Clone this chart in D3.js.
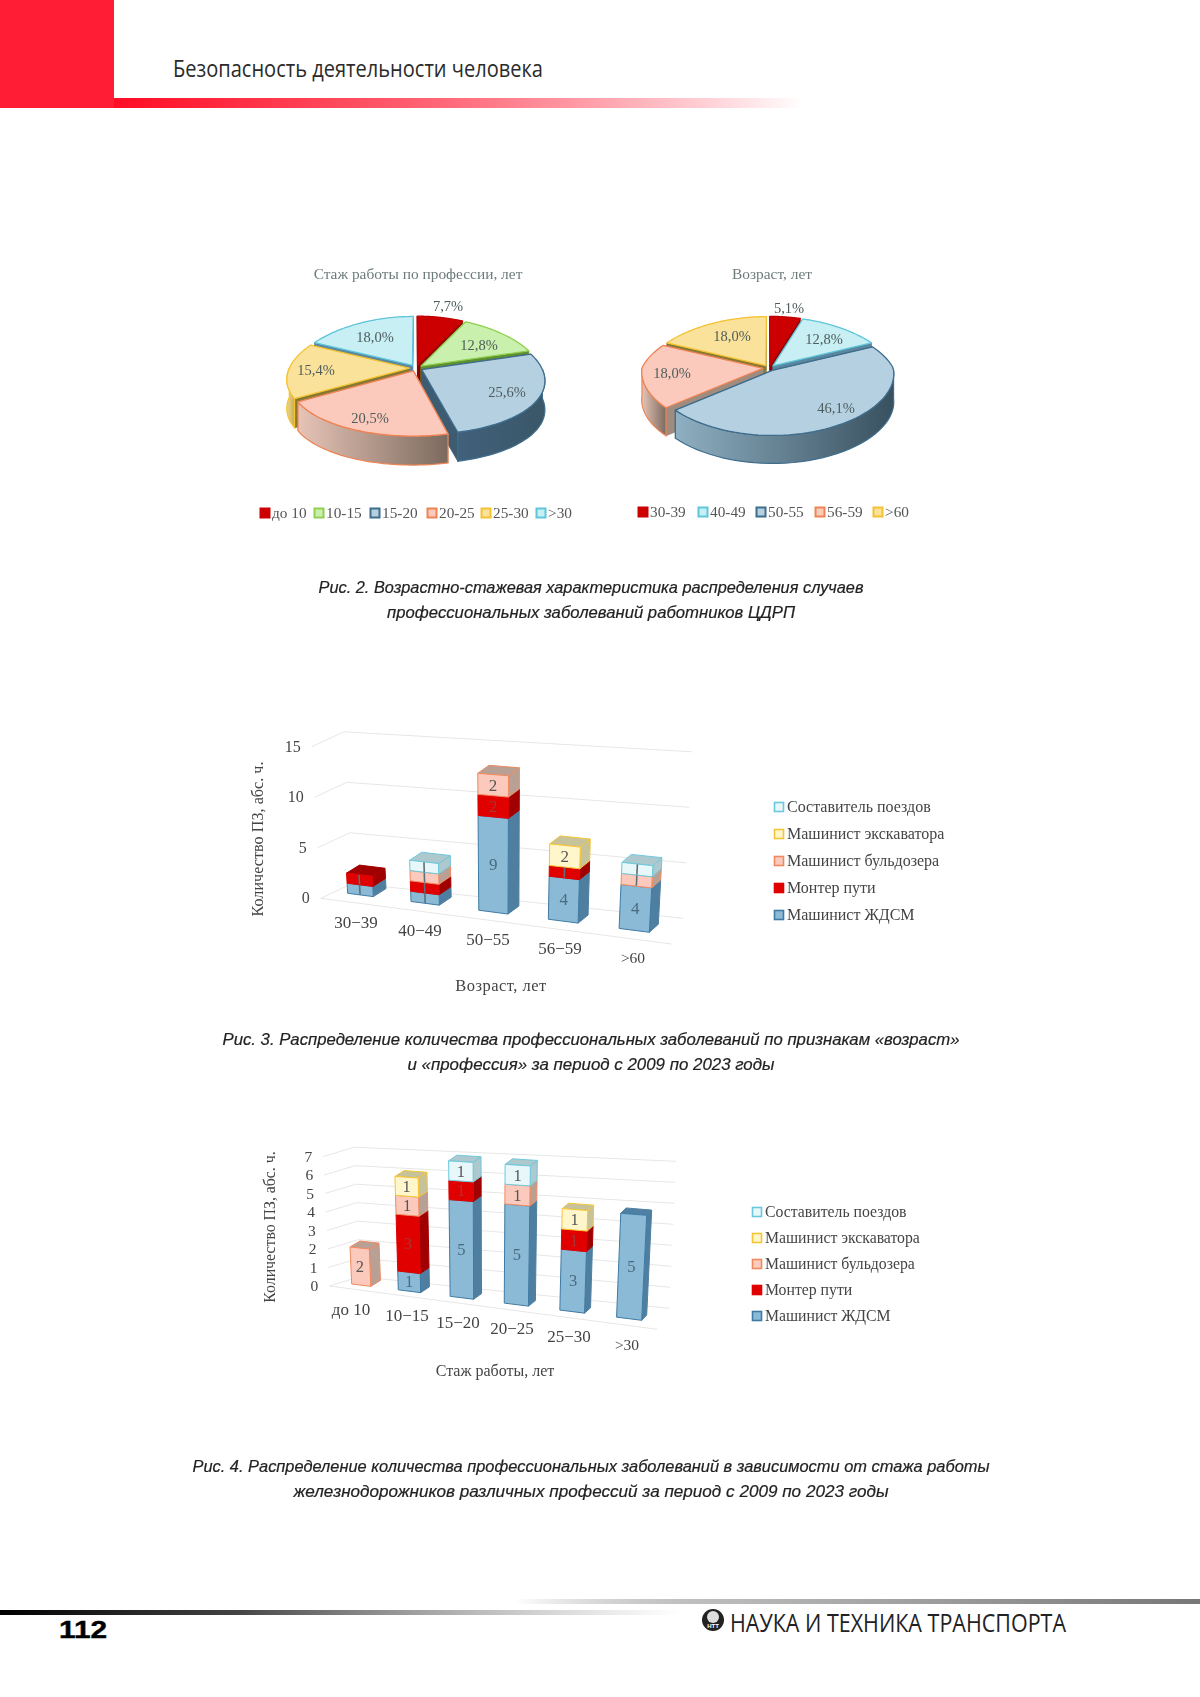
<!DOCTYPE html>
<html lang="ru"><head><meta charset="utf-8">
<script src="https://d3js.org/d3.v7.min.js"></script>
<style>
html,body{margin:0;padding:0;background:#fff}
svg{display:block}
text{font-family:"Liberation Serif",serif}
.soft{filter:blur(.6px)}
.cap{font-family:"Liberation Sans",sans-serif;font-style:italic;font-size:16.4px;fill:#222;stroke:#222;stroke-width:.2;text-anchor:middle}
</style></head><body>
<svg id="page" width="1200" height="1697" viewBox="0 0 1200 1697"></svg>
<script>
// ---------- data ----------
const pie1Title = "Стаж работы по профессии, лет";
const pie1Labels = ["до 10","10-15","15-20","20-25","25-30",">30"];
const pie1Values = [7.7,12.8,25.6,20.5,15.4,18.0];
const pie2Title = "Возраст, лет";
const pie2Labels = ["30-39","40-49","50-55","56-59",">60"];
const pie2Values = [5.1,12.8,46.1,18.0,18.0];

const seriesNames = ["Машинист ЖДСМ","Монтер пути","Машинист бульдозера","Машинист экскаватора","Составитель поездов"];

const ageCategories = ["30−39","40−49","50−55","56−59",">60"];
const ageZhdsm     = [1,1,9,4,4];
const ageMonter    = [1,1,2,1,0];
const ageBulldozer = [0,1,2,0,1];
const ageExcavator = [0,0,0,2,0];
const ageSostav    = [0,1,0,0,1];
const ageTicks = [0,5,10,15];

const expCategories = ["до 10","10−15","15−20","20−25","25−30",">30"];
const expZhdsm     = [0,1,5,5,3,5];
const expMonter    = [0,3,1,0,1,0];
const expBulldozer = [2,1,0,1,0,0];
const expExcavator = [0,1,0,0,1,0];
const expSostav    = [0,0,1,1,0,0];
const expTicks = [0,1,2,3,4,5,6,7];

// ---------- styles ----------
const sliceStyle = {
  red:   {top:"#cc0000",stroke:"#c00000",wall:"#8f0000",side:["#b00000","#7a0000"],mark:"#cc0000",markIn:"#cc0000"},
  green: {top:"#c9f0ad",stroke:"#8fd04f",wall:"#5f8f30",side:["#6f9f40","#4f7f25"],mark:"#92d050",markIn:"#c9f0ad"},
  navy:  {top:"#b5d1e1",stroke:"#3f6d8c",wall:"#3d5c72",side:["#41617a","#3a5668"],mark:"#3f6d8c",markIn:"#b5d1e1"},
  blue:  {top:"#b5d1e1",stroke:"#3f6d8c",wall:"#3d5c72",side:["#8fb0c2","#38505f"],mark:"#3f6d8c",markIn:"#b5d1e1"},
  pink:  {top:"#fbcabd",stroke:"#ee8354",wall:"#a08c7e",side:["#e6c4b6","#7c6a5e"],mark:"#ee8354",markIn:"#fbcabd"},
  yellow:{top:"#fbe29b",stroke:"#f4c233",wall:"#87782f",side:["#f0d88a","#c8ac55"],mark:"#f4c233",markIn:"#fbe29b"},
  cyan:  {top:"#c8eff3",stroke:"#5ec5da",wall:"#5a87a0",side:["#7ab0bb","#4d8a96"],mark:"#5ec5da",markIn:"#c8eff3"}
};
const barStyle = [
  {front:"#8abad6",stroke:"#3f7aa3",side:"#4f7fa0",top:"#4f80a3",text:"#4c6a7e"},
  {front:"#e00000",stroke:"#e00000",side:"#a00000",top:"#a00000",text:"#a33"},
  {front:"#fbcabd",stroke:"#ef8a60",side:"#b9a094",top:"#b9a094",text:"#555"},
  {front:"#fff6cc",stroke:"#f6c535",side:"#c6c299",top:"#c6c299",text:"#555"},
  {front:"#e8f7f9",stroke:"#6cc8dc",side:"#aec9ce",top:"#aec9ce",text:"#555"}
];

const svg = d3.select("#page");
const defs = svg.append("defs");
const lineGen = d3.line();

// ---------- page furniture ----------
function hGrad(id, stops){
  const g = defs.append("linearGradient").attr("id",id);
  stops.forEach(s=>g.append("stop").attr("offset",s[0]).attr("stop-color",s[1]).attr("stop-opacity",s[2]===undefined?1:s[2]));
}
hGrad("redFade",[[0,"#ff0d24"],[.35,"#ff4d60"],[1,"#ff1f3a",0]]);
hGrad("topFade",[[0,"#888",0],[.3,"#bbb"],[1,"#777"]]);
hGrad("blackFade",[[0,"#000"],[.35,"#444"],[1,"#888",0]]);
svg.append("rect").attr("x",0).attr("y",0).attr("width",114).attr("height",108).attr("fill","#ff1d36");
svg.append("rect").attr("x",114).attr("y",98).attr("width",690).attr("height",10).attr("fill","url(#redFade)");
svg.append("text").attr("x",173).attr("y",77).attr("textLength",370).attr("lengthAdjust","spacingAndGlyphs")
  .style("font-family","'Open Sans',sans-serif").style("font-size","23px").attr("fill","#2b2b2b").text("Безопасность деятельности человека");
svg.append("rect").attr("x",515).attr("y",1599).attr("width",685).attr("height",5).attr("fill","url(#topFade)");
svg.append("rect").attr("x",0).attr("y",1610).attr("width",680).attr("height",5).attr("fill","url(#blackFade)");
svg.append("text").attr("x",59).attr("y",1638).attr("textLength",48).attr("lengthAdjust","spacingAndGlyphs")
  .style("font-family","'Liberation Sans',sans-serif").style("font-weight","700").style("font-size","23px").attr("stroke","#000").attr("stroke-width",.4).text("112");
svg.append("circle").attr("cx",713).attr("cy",1620).attr("r",11).attr("fill","#222");
svg.append("circle").attr("cx",713).attr("cy",1617).attr("r",6).attr("fill","#ddd");
svg.append("text").attr("x",713).attr("y",1628).attr("text-anchor","middle").style("font-family","'Liberation Sans',sans-serif").style("font-size","6px").style("font-weight","700").attr("fill","#fff").text("НТТ");
svg.append("text").attr("x",730).attr("y",1632).attr("textLength",336).attr("lengthAdjust","spacingAndGlyphs")
  .style("font-family","'Open Sans',sans-serif").style("font-size","26px").attr("fill","#222").text("НАУКА И ТЕХНИКА ТРАНСПОРТА");

// ---------- 3D pie ----------
function drawPie(cfg){
  const g = svg.append("g").attr("class","soft");
  const pie = d3.pie().sort(null).value(d=>d)(cfg.values);
  const project = (x,v)=>[cfg.cx+cfg.rx*x*(1+(v<0?.2:cfg.frontStretch)*v), cfg.cy+cfg.ry*v*(1+.13*v)];
  const items = pie.map((p,i)=>{
    const st = sliceStyle[cfg.colors[i]];
    const mid = (p.startAngle+p.endAngle)/2;
    return {p,i,st,mid,ex:cfg.explode*Math.sin(mid),ev:-cfg.explode*Math.cos(mid)};
  });
  const pt = (it,a,r)=>project(it.ex+r*Math.sin(a), it.ev-r*Math.cos(a));
  const down = q=>[q[0],q[1]+cfg.depth];
  const order = items.slice().sort((a,b)=>a.ev-Math.cos(a.mid)-(b.ev-Math.cos(b.mid)));
  order.forEach(it=>{
    const {p,st} = it;
    const c = pt(it,0,0);
    [p.startAngle,p.endAngle].forEach(a=>{
      const e = pt(it,a,1);
      g.append("path").attr("d",lineGen([c,e,down(e),down(c)])+"Z").attr("fill",st.wall).attr("stroke",st.wall).attr("stroke-width",.8);
    });
    const a0 = Math.max(p.startAngle,Math.PI/2), a1 = Math.min(p.endAngle,Math.PI*1.5);
    if(a1>a0){
      const arc = d3.range(0,41).map(k=>pt(it,a0+(a1-a0)*k/40,1));
      const id = "side"+cfg.key+it.i;
      const gr = defs.append("linearGradient").attr("id",id);
      gr.append("stop").attr("offset",0).attr("stop-color",st.side[0]);
      gr.append("stop").attr("offset",1).attr("stop-color",st.side[1]);
      g.append("path").attr("d",lineGen(arc.concat(arc.slice().reverse().map(down)))+"Z")
        .attr("fill",`url(#${id})`).attr("stroke",st.stroke).attr("stroke-width",1.2);
    }
    const n = 60;
    const rim = d3.range(0,n+1).map(k=>pt(it,p.startAngle+(p.endAngle-p.startAngle)*k/n,1));
    g.append("path").attr("d",lineGen([c].concat(rim))+"Z").attr("fill",st.top).attr("stroke",st.stroke)
      .attr("stroke-width",1.3).attr("stroke-linejoin","round");
  });
  items.forEach(it=>{
    const o = cfg.labelOffsets[it.i];
    g.append("text").attr("x",cfg.cx+o[0]).attr("y",cfg.cy+o[1]+5).attr("text-anchor","middle")
      .attr("fill","#4e5c5c").style("font-size","14.5px").text(it.p.value.toFixed(1).replace(".",",")+"%");
  });
  g.append("text").attr("x",cfg.titleX).attr("y",279).attr("text-anchor","middle").attr("fill","#6d7b7b")
    .style("font-size","15.4px").text(cfg.title);
  cfg.labels.forEach((l,i)=>{
    const st = sliceStyle[cfg.colors[i]], x = cfg.legendX[i];
    g.append("rect").attr("x",x-4.5).attr("y",cfg.legendY-4.5).attr("width",9).attr("height",9)
      .attr("fill",st.markIn).attr("stroke",st.mark).attr("stroke-width",2);
    g.append("text").attr("x",x+7).attr("y",cfg.legendY+5).attr("fill","#555").style("font-size","15.3px").text(l);
  });
}
drawPie({key:"a",title:pie1Title,titleX:418,labels:pie1Labels,values:pie1Values,
  colors:["red","green","navy","pink","yellow","cyan"],cx:416,cy:368,rx:120,ry:57,depth:29,explode:.055,frontStretch:.2,
  labelOffsets:[[32,-62],[63,-23],[91,24],[-46,50],[-100,2],[-41,-31]],
  legendX:[265,319,375,432,486,541],legendY:513});
drawPie({key:"b",title:pie2Title,titleX:772,labels:pie2Labels,values:pie2Values,
  colors:["red","cyan","blue","pink","yellow"],cx:769,cy:368,rx:121,ry:57,depth:28,explode:.05,frontStretch:.06,
  labelOffsets:[[20,-60],[55,-29],[67,40],[-97,5],[-37,-32]],
  legendX:[643,703,761,820,878],legendY:512});

// ---------- 3D stacked columns ----------
function drawBars(cfg){
  const g = svg.append("g").attr("class","soft");
  const lerp=(a,b,t)=>[a[0]+(b[0]-a[0])*t,a[1]+(b[1]-a[1])*t];
  const lean = d3.scaleLinear().domain([0,1]).range(cfg.lean);
  const unit = d3.scaleLinear().domain([0,1]).range(cfg.unit);
  const raise = (p,u,v)=>[p[0]+lean(u)*v,p[1]-unit(u)*v];
  const gridPt = (u,w,v)=>raise(lerp(lerp(cfg.FL,cfg.FR,u),lerp(cfg.BL,cfg.BR,u),w),u,v);
  cfg.ticks.forEach(t=>{
    g.append("path").attr("d",lineGen([gridPt(0,0,t),gridPt(0,1,t),gridPt(1,1,t)])).attr("fill","none").attr("stroke","#e6e6e6").attr("stroke-width",1);
    const a = gridPt(0,0,t);
    g.append("text").attr("x",a[0]-11).attr("y",a[1]+5).attr("text-anchor","end").attr("fill","#444").style("font-size",cfg.tickSize+"px").text(t);
  });
  g.append("path").attr("d",lineGen([cfg.FL,cfg.FR])).attr("fill","none").attr("stroke","#e6e6e6").attr("stroke-width",1);
  const band = d3.scaleBand().domain(cfg.categories).range([0,1]).paddingInner(cfg.padInner).paddingOuter(0);
  const warp = d3.scalePow().exponent(cfg.warp).domain([0,1]).range([0,1]);
  const proj = (t,w,v)=>{
    const u = warp(t);
    const base = lerp(cfg.barStart,cfg.barEnd,u);
    const dv = lerp(cfg.depthLeft,cfg.depthRight,u);
    return raise([base[0]+dv[0]*w,base[1]+dv[1]*w],u,v);
  };
  const stack = d3.stack().keys(d3.range(5)).value((d,k)=>cfg.series[k][d])(d3.range(cfg.categories.length));
  cfg.categories.forEach((cat,i)=>{
    const u0=band(cat),u1=u0+band.bandwidth();
    const total = d3.sum(cfg.series,s=>s[i]);
    stack.forEach((layer,k)=>{
      const [v0,v1]=layer[i]; if(v1===v0) return;
      const st=barStyle[k];
      const side=[proj(u1,0,v0),proj(u1,1,v0),proj(u1,1,v1),proj(u1,0,v1)];
      const front=[proj(u0,0,v0),proj(u1,0,v0),proj(u1,0,v1),proj(u0,0,v1)];
      g.append("path").attr("d",lineGen(side)+"Z").attr("fill",st.side).attr("stroke",k<2?st.side:st.stroke).attr("stroke-width",1);
      if(v1===total){
        const top=[proj(u0,0,v1),proj(u1,0,v1),proj(u1,1,v1),proj(u0,1,v1)];
        g.append("path").attr("d",lineGen(top)+"Z").attr("fill",st.top).attr("stroke",k<2?st.top:st.stroke).attr("stroke-width",1);
      }
      g.append("path").attr("d",lineGen(front)+"Z").attr("fill",st.front).attr("stroke",st.stroke).attr("stroke-width",1);
    });
    stack.forEach((layer,k)=>{
      const [v0,v1]=layer[i]; if(v1===v0) return;
      const um=(u0+u1)/2;
      const c=proj(um,0,(v0+v1)/2);
      const val=v1-v0;
      if(cfg.ruleOnes && val===1){
        const a=proj(um,0,v0+.03),b=proj(um,0,v1-.03);
        g.append("path").attr("d",lineGen([a,b])).attr("stroke","#5f6f78").attr("stroke-width",1.6).attr("fill","none");
      } else {
        g.append("text").attr("x",c[0]).attr("y",c[1]+5.5).attr("text-anchor","middle").attr("fill",barStyle[k].text)
          .style("font-size",cfg.valueSize+"px").text(val);
      }
    });
    const l=cfg.catLabels[i];
    g.append("text").attr("x",l[0]).attr("y",l[1]+5).attr("text-anchor","middle").attr("fill","#444")
      .style("font-size",(cat.startsWith(">")?cfg.catSize-1.5:cfg.catSize)+"px").text(cat);
  });
  g.append("text").attr("x",cfg.xTitle[0]).attr("y",cfg.xTitle[1]+5).attr("text-anchor","middle").attr("fill","#444")
    .style("font-size",cfg.xTitleSize+"px").style("letter-spacing",cfg.xTitleSpacing+"px").text(cfg.xTitleText);
  g.append("text").attr("transform",`translate(${cfg.yTitle[0]+5},${cfg.yTitle[1]}) rotate(-90)`).attr("text-anchor","middle").attr("fill","#444")
    .style("font-size",cfg.yTitleSize+"px").text("Количество ПЗ, абс. ч.");
  d3.range(5).reverse().forEach((k,row)=>{
    const y=cfg.legendY+row*cfg.legendStep;
    g.append("rect").attr("x",cfg.legendX-4.5).attr("y",y-4.5).attr("width",9).attr("height",9)
      .attr("fill",barStyle[k].front).attr("stroke",barStyle[k].stroke).attr("stroke-width",1.6);
    g.append("text").attr("x",cfg.legendX+8).attr("y",y+5).attr("fill","#444").style("font-size",cfg.legendSize+"px").text(seriesNames[k]);
  });
}
drawBars({categories:ageCategories,series:[ageZhdsm,ageMonter,ageBulldozer,ageExcavator,ageSostav],ticks:ageTicks,
  FL:[320.7,898.3],FR:[671.7,944],BR:[683.3,918.3],BL:[352.7,883.3],
  barStart:[347.7,893.3],barEnd:[649.3,932.3],depthLeft:[13,-8],depthRight:[9,-8],padInner:.577,warp:1.05,
  lean:[-.6,.6],unit:[10.1,11.1],ruleOnes:true,tickSize:16,valueSize:17,catSize:17,
  catLabels:[[356,923],[420,931],[488,940],[560,949],[633,958]],
  xTitle:[501,986],xTitleText:"Возраст, лет",xTitleSize:16.5,xTitleSpacing:.5,yTitle:[258,839],yTitleSize:16.2,
  legendX:779,legendY:807,legendStep:27,legendSize:16});
drawBars({categories:expCategories,series:[expZhdsm,expMonter,expBulldozer,expExcavator,expSostav],ticks:expTicks,
  FL:[329.3,1286],FR:[657.3,1329.3],BR:[669.3,1308.3],BL:[360,1276.7],
  barStart:[351.7,1284],barEnd:[641.7,1320.3],depthLeft:[10,-6],depthRight:[5,-5.2],padInner:.562,warp:1.08,
  lean:[-.85,1],unit:[18.5,21],ruleOnes:false,tickSize:15.5,valueSize:16.5,catSize:17,
  catLabels:[[351,1310],[407,1316],[458,1323],[512,1329],[569,1337],[627,1345]],
  xTitle:[495,1371],xTitleText:"Стаж работы, лет",xTitleSize:16,xTitleSpacing:0,yTitle:[270,1227],yTitleSize:15.8,
  legendX:757,legendY:1212,legendStep:26,legendSize:15.75});

// ---------- captions ----------
[["Рис. 2. Возрастно-стажевая характеристика распределения случаев",593,545],
 ["профессиональных заболеваний работников ЦДРП",618,408],
 ["Рис. 3. Распределение количества профессиональных заболеваний по признакам «возраст»",1045,737],
 ["и «профессия» за период с 2009 по 2023 годы",1070,367],
 ["Рис. 4. Распределение количества профессиональных заболеваний в зависимости от стажа работы",1472,797],
 ["железнодорожников различных профессий за период с 2009 по 2023 годы",1497,595]
].forEach(c=>svg.append("text").attr("class","cap").attr("x",591).attr("y",c[1])
  .attr("textLength",c[2]).attr("lengthAdjust","spacingAndGlyphs").text(c[0]));
</script>
</body></html>
